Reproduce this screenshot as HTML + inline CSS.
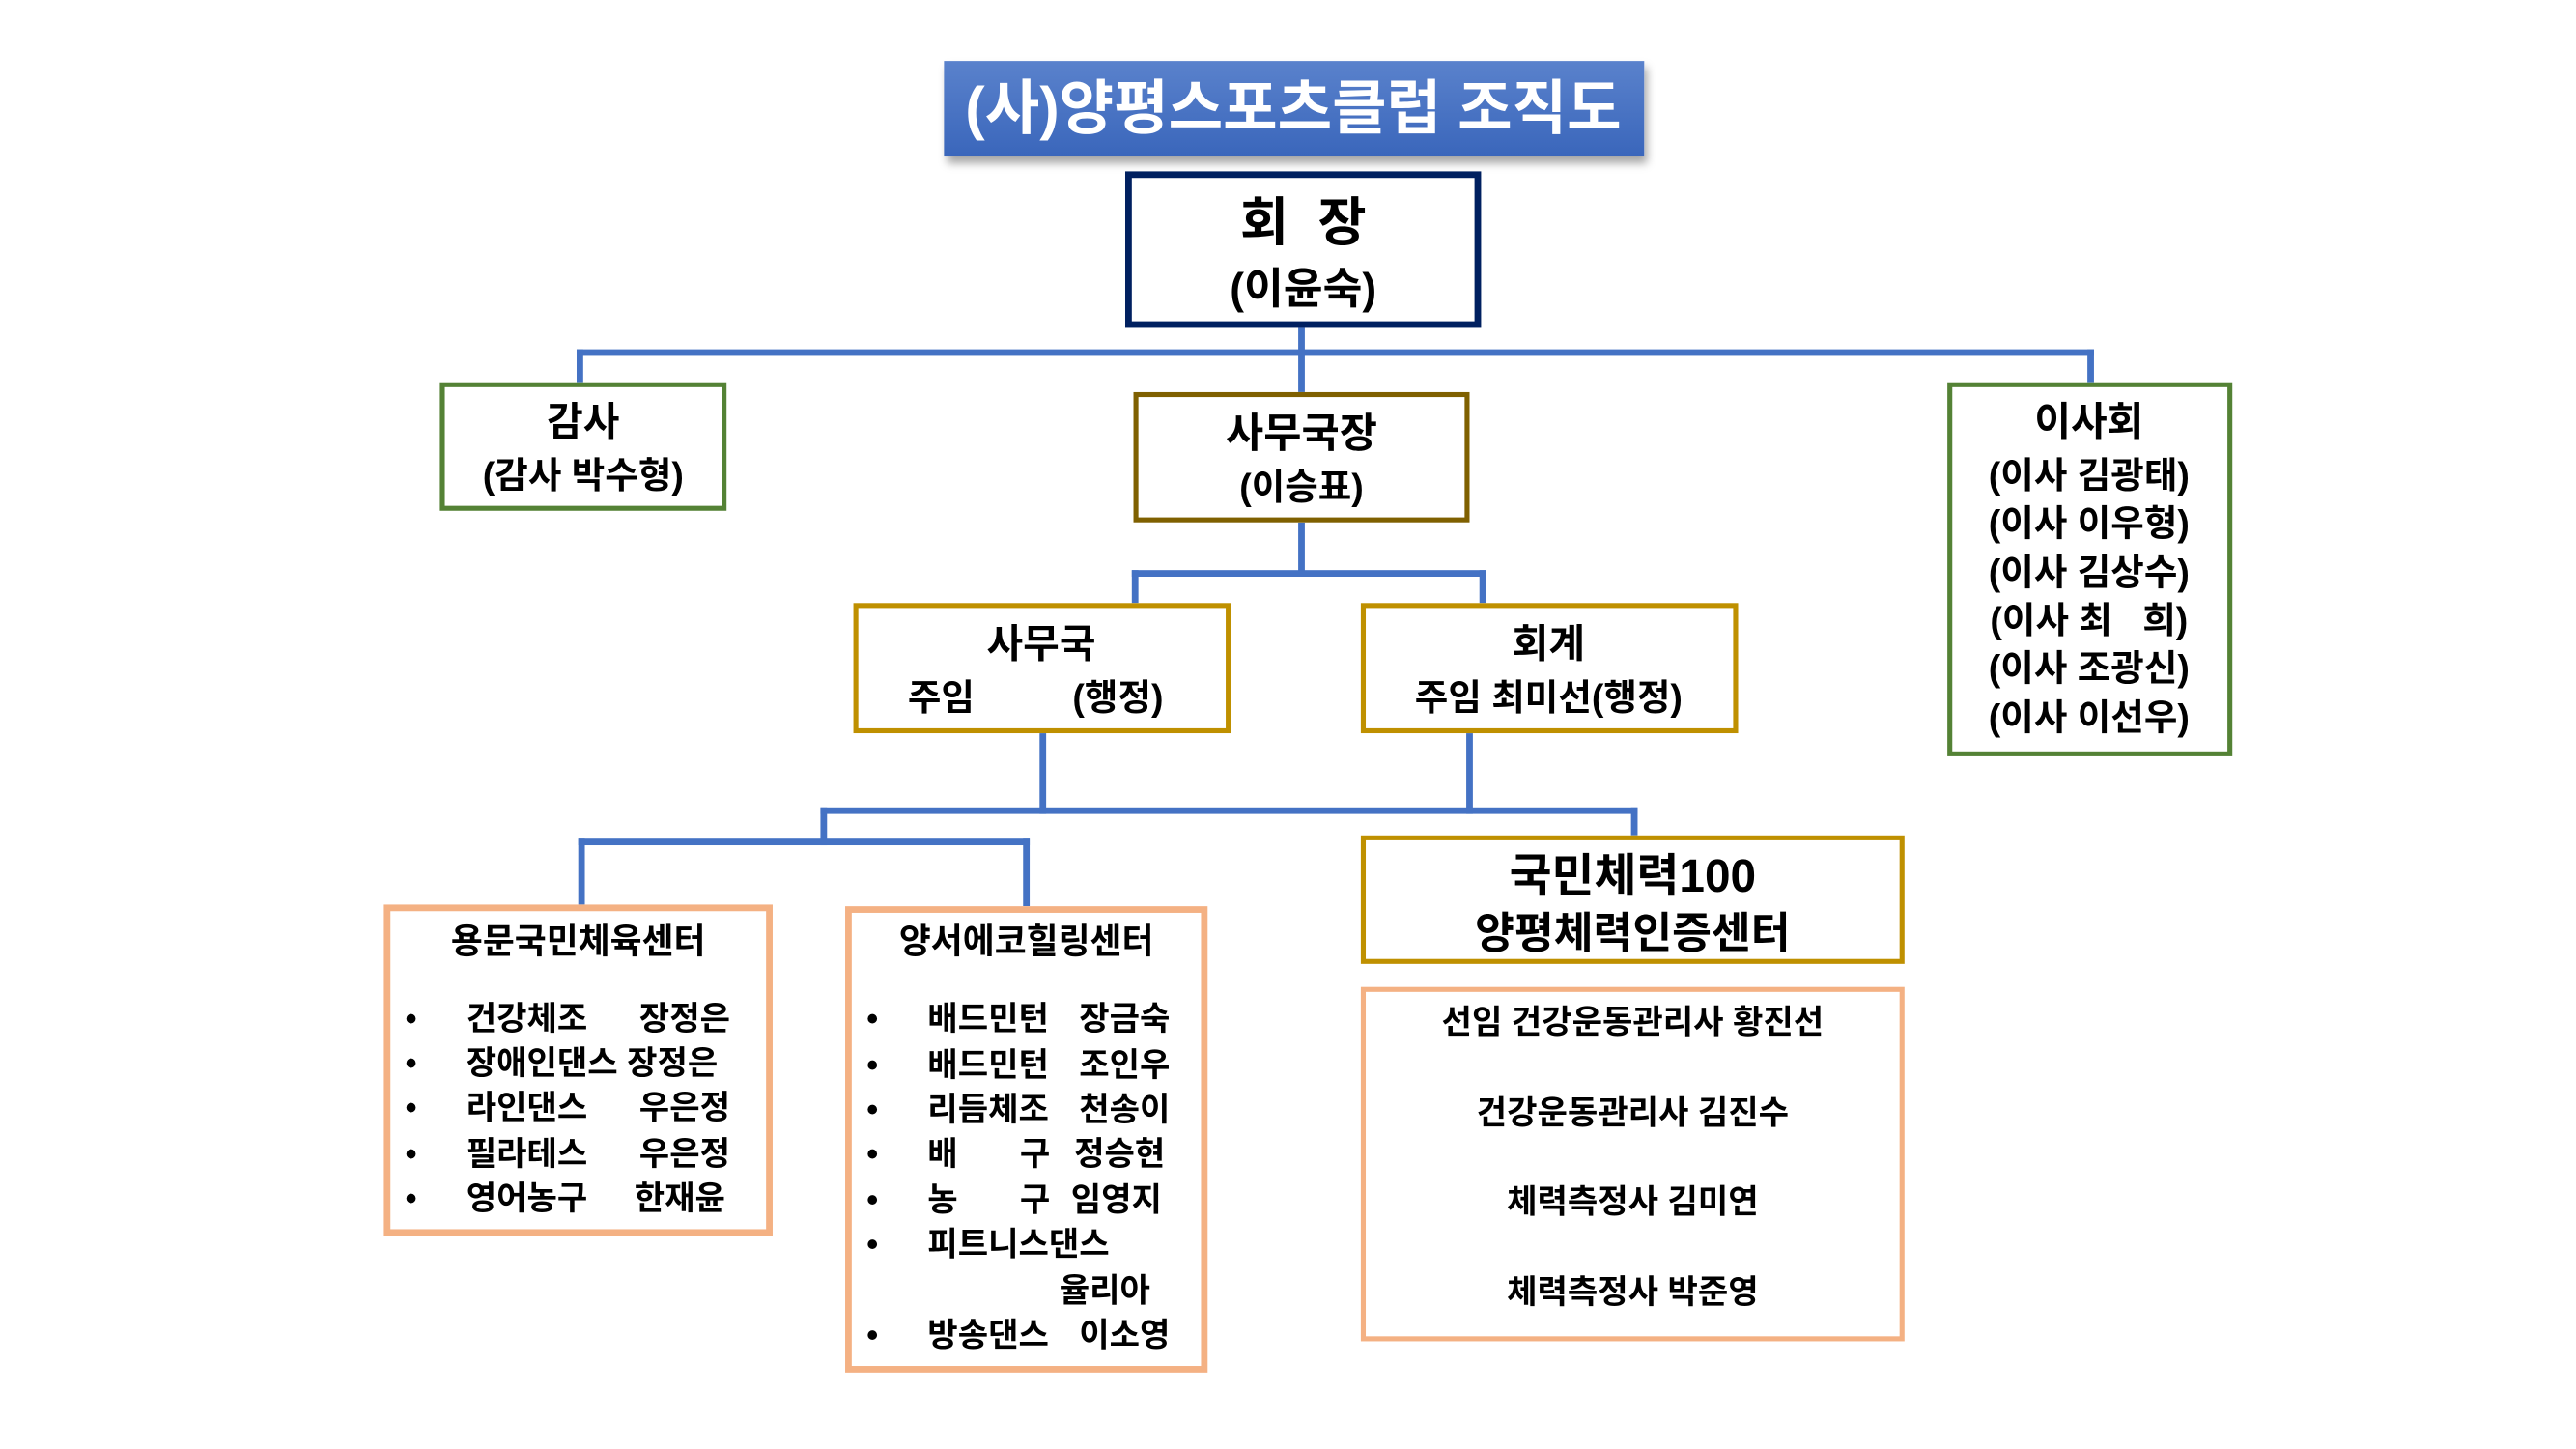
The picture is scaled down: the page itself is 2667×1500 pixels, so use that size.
<!DOCTYPE html>
<html><head><meta charset="utf-8">
<style>
html,body{margin:0;padding:0;background:#fff;}
body{width:2667px;height:1500px;overflow:hidden;position:relative;}
#w{position:absolute;left:0;top:0;width:1545px;height:869px;transform:scale(1.7057);transform-origin:0 0;font-family:"Liberation Sans","Noto Sans CJK KR",sans-serif;font-weight:bold;color:#000;}
.b{position:absolute;box-sizing:border-box;background:#fff;}
.l{position:absolute;background:#4472c4;}
.t{position:absolute;white-space:pre;line-height:1;}
.c{position:absolute;white-space:pre;line-height:1;transform:translate(-50%,-50%);}
</style></head><body><div id="w">
<div class="b" style="left:573px;top:37px;width:425px;height:58px;background:linear-gradient(#5a82cc,#3a66bb);box-shadow:2px 4px 5px rgba(0,0,0,0.35);"></div>
<div class="c" style="left:785px;top:66px;font-size:36px;color:#fff;">(사)양평스포츠클럽 조직도</div>

<div class="l" style="left:350px;top:212px;width:921px;height:4px;"></div>
<div class="l" style="left:788px;top:199px;width:4px;height:39px;"></div>
<div class="l" style="left:350px;top:212px;width:4px;height:20px;"></div>
<div class="l" style="left:1267px;top:212px;width:4px;height:20px;"></div>
<div class="l" style="left:788px;top:317px;width:4px;height:33px;"></div>
<div class="l" style="left:687px;top:346px;width:215px;height:4px;"></div>
<div class="l" style="left:687px;top:346px;width:4px;height:20px;"></div>
<div class="l" style="left:898px;top:346px;width:4px;height:20px;"></div>
<div class="l" style="left:631px;top:445px;width:4px;height:49px;"></div>
<div class="l" style="left:890px;top:445px;width:4px;height:49px;"></div>
<div class="l" style="left:498px;top:490px;width:496px;height:4px;"></div>
<div class="l" style="left:990px;top:490px;width:4px;height:17px;"></div>
<div class="l" style="left:498px;top:490px;width:4px;height:23px;"></div>
<div class="l" style="left:351px;top:509px;width:274px;height:4px;"></div>
<div class="l" style="left:351px;top:509px;width:4px;height:40px;"></div>
<div class="l" style="left:621px;top:509px;width:4px;height:41px;"></div>

<div class="b" style="left:683px;top:104px;width:216px;height:95px;border:4px solid #002060;"></div>
<div class="c" style="left:791px;top:135px;font-size:32px;">회  장</div>
<div class="c" style="left:791px;top:175px;font-size:26px;">(이윤숙)</div>

<div class="b" style="left:267px;top:232px;width:174px;height:78px;border:3px solid #548235;"></div>
<div class="c" style="left:354px;top:257px;font-size:24px;">감사</div>
<div class="c" style="left:354px;top:289px;font-size:22px;">(감사 박수형)</div>

<div class="b" style="left:688px;top:238px;width:204px;height:79px;border:3px solid #7f6000;"></div>
<div class="c" style="left:790px;top:264px;font-size:25px;">사무국장</div>
<div class="c" style="left:790px;top:296px;font-size:22px;">(이승표)</div>

<div class="b" style="left:1182px;top:232px;width:173px;height:227px;border:3px solid #548235;"></div>
<div class="c" style="left:1268px;top:257px;font-size:24px;">이사회</div>
<div class="c" style="left:1268px;top:289px;font-size:22px;">(이사 김광태)</div>
<div class="c" style="left:1268px;top:318px;font-size:22px;">(이사 이우형)</div>
<div class="c" style="left:1268px;top:348px;font-size:22px;">(이사 김상수)</div>
<div class="c" style="left:1268px;top:377px;font-size:22px;">(이사 최   희)</div>
<div class="c" style="left:1268px;top:406px;font-size:22px;">(이사 조광신)</div>
<div class="c" style="left:1268px;top:436px;font-size:22px;">(이사 이선우)</div>

<div class="b" style="left:518px;top:366px;width:229px;height:79px;border:3px solid #bf9000;"></div>
<div class="c" style="left:632px;top:392px;font-size:24px;">사무국</div>
<div class="t" style="left:551px;top:413px;font-size:22px;">주임</div>
<div class="t" style="left:651px;top:413px;font-size:22px;">(행정)</div>

<div class="b" style="left:826px;top:366px;width:229px;height:79px;border:3px solid #bf9000;"></div>
<div class="c" style="left:940px;top:392px;font-size:24px;">회계</div>
<div class="c" style="left:940px;top:424px;font-size:22px;">주임 최미선(행정)</div>

<div class="b" style="left:233px;top:549px;width:236px;height:201px;border:4px solid #f4b183;"></div>
<div class="c" style="left:351px;top:572px;font-size:21px;">용문국민체육센터</div>
<div style="position:absolute;left:0;top:0;font-size:20px;">
<div class="t" style="left:246px;top:609px;">•</div><div class="t" style="left:283px;top:609px;">건강체조</div><div class="t" style="left:388px;top:609px;">장정은</div>
<div class="t" style="left:246px;top:636px;">•</div><div class="t" style="left:283px;top:636px;">장애인댄스 장정은</div>
<div class="t" style="left:246px;top:663px;">•</div><div class="t" style="left:283px;top:663px;">라인댄스</div><div class="t" style="left:388px;top:663px;">우은정</div>
<div class="t" style="left:246px;top:691px;">•</div><div class="t" style="left:283px;top:691px;">필라테스</div><div class="t" style="left:388px;top:691px;">우은정</div>
<div class="t" style="left:246px;top:718px;">•</div><div class="t" style="left:283px;top:718px;">영어농구</div><div class="t" style="left:385px;top:718px;">한재윤</div>
</div>

<div class="b" style="left:513px;top:550px;width:220px;height:283px;border:4px solid #f4b183;"></div>
<div class="c" style="left:623px;top:572px;font-size:21px;">양서에코힐링센터</div>
<div style="position:absolute;left:0;top:0;font-size:20px;">
<div class="t" style="left:526px;top:609px;">•</div><div class="t" style="left:563px;top:609px;">배드민턴</div><div class="t" style="left:655px;top:609px;">장금숙</div>
<div class="t" style="left:526px;top:637px;">•</div><div class="t" style="left:563px;top:637px;">배드민턴</div><div class="t" style="left:655px;top:637px;">조인우</div>
<div class="t" style="left:526px;top:664px;">•</div><div class="t" style="left:563px;top:664px;">리듬체조</div><div class="t" style="left:655px;top:664px;">천송이</div>
<div class="t" style="left:526px;top:691px;">•</div><div class="t" style="left:563px;top:691px;">배</div><div class="t" style="left:619px;top:691px;">구</div><div class="t" style="left:652px;top:691px;">정승현</div>
<div class="t" style="left:526px;top:719px;">•</div><div class="t" style="left:563px;top:719px;">농</div><div class="t" style="left:619px;top:719px;">구</div><div class="t" style="left:650px;top:719px;">임영지</div>
<div class="t" style="left:526px;top:746px;">•</div><div class="t" style="left:563px;top:746px;">피트니스댄스</div>
<div class="t" style="left:643px;top:774px;">율리아</div>
<div class="t" style="left:526px;top:801px;">•</div><div class="t" style="left:563px;top:801px;">방송댄스</div><div class="t" style="left:655px;top:801px;">이소영</div>
</div>

<div class="b" style="left:826px;top:507px;width:330px;height:78px;border:3px solid #bf9000;"></div>
<div class="c" style="left:991px;top:532px;font-size:28px;">국민체력100</div>
<div class="c" style="left:991px;top:566px;font-size:26px;">양평체력인증센터</div>

<div class="b" style="left:826px;top:599px;width:330px;height:215px;border:3px solid #f4b183;"></div>
<div class="c" style="left:991px;top:621px;font-size:20px;">선임 건강운동관리사 황진선</div>
<div class="c" style="left:991px;top:676px;font-size:20px;">건강운동관리사 김진수</div>
<div class="c" style="left:991px;top:730px;font-size:20px;">체력측정사 김미연</div>
<div class="c" style="left:991px;top:785px;font-size:20px;">체력측정사 박준영</div>
</div></body></html>
